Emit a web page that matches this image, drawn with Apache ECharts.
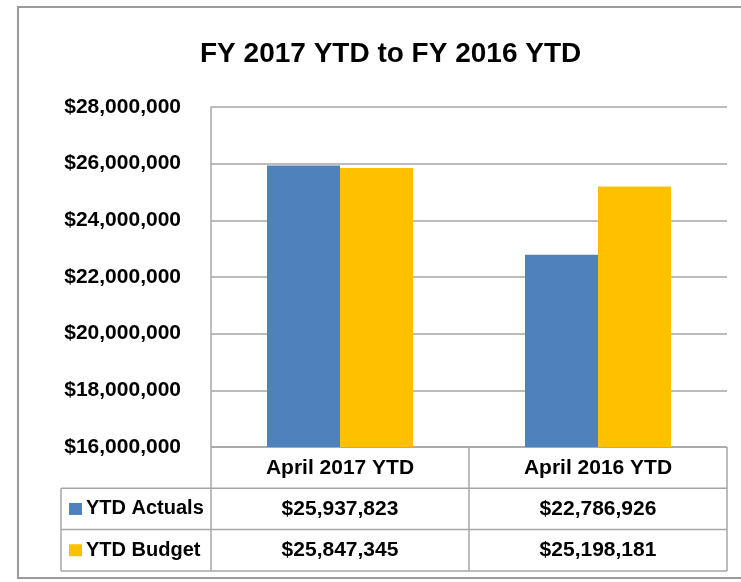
<!DOCTYPE html>
<html>
<head>
<meta charset="utf-8">
<script src="https://cdn.jsdelivr.net/npm/echarts@6/dist/echarts.min.js"></script>
<style>
  html, body { margin: 0; padding: 0; background: #fff; }
  #chart { width: 741px; height: 582px; }
</style>
</head>
<body>
<div id="chart"></div>
<script>
const categories = ['April 2017 YTD', 'April 2016 YTD']
const seriesNames = ['YTD Actuals', 'YTD Budget']
const actuals = [25937823, 22786926]
const budget = [25847345, 25198181]
const colors = ['#4f81bd', '#ffc000']

const font = '"Liberation Sans", Arial, sans-serif'
const lineColor = '#a6a6a6'

const fmt = v => '$' + v.toLocaleString('en-US')

const chart = echarts.init(document.getElementById('chart'))

// layout of plot + data table
const plotLeft = 211, plotRight = 727, plotTop = 107, plotBottom = 447
const rowH = 41.3
const legendLeft = 61

const option = {
  animation: false,
  title: {
    text: 'FY 2017 YTD to FY 2016 YTD',
    left: 195,
    top: 35,
    textStyle: { fontFamily: font, fontSize: 28, fontWeight: 'bold', color: '#000' }
  },
  grid: {
    left: plotLeft,
    right: 741 - plotRight,
    top: plotTop,
    bottom: 582 - plotBottom
  },
  xAxis: {
    type: 'category',
    data: categories,
    axisLine: { show: false },
    axisTick: { show: false },
    axisLabel: { show: false }
  },
  yAxis: {
    type: 'value',
    min: 16000000,
    max: 28000000,
    interval: 2000000,
    axisLine: { show: true, lineStyle: { color: lineColor, width: 1.5 } },
    axisTick: { show: false },
    splitLine: { lineStyle: { color: lineColor, width: 1.5 } },
    axisLabel: {
      formatter: fmt,
      fontFamily: font,
      fontSize: 21,
      fontWeight: 'bold',
      color: '#000',
      margin: 30,
      verticalAlign: 'middle'
    }
  },
  series: [
    {
      name: seriesNames[0],
      type: 'bar',
      data: actuals,
      itemStyle: { color: colors[0] },
      barGap: '0%',
      barCategoryGap: '43.4%'
    },
    {
      name: seriesNames[1],
      type: 'bar',
      data: budget,
      itemStyle: { color: colors[1] }
    }
  ]
}

chart.setOption(option)

// data table drawn under the plot
const colW = (plotRight - plotLeft) / categories.length
const tableBottom = plotBottom + rowH * 3
const g = []
const line = (x1, y1, x2, y2) => g.push({
  type: 'line', shape: { x1, y1, x2, y2 }, style: { stroke: lineColor, lineWidth: 1.5 }
})
const txt = (x, y, text, size, align) => g.push({
  type: 'text', x, y,
  style: {
    text, fontFamily: font, fontSize: size, fontWeight: 'bold', fill: '#000',
    align: align || 'center', verticalAlign: 'middle'
  }
})

// outer chart border
g.push({ type: 'rect', shape: { x: 18, y: 7, width: 740, height: 571 },
  style: { fill: null, stroke: '#9a9a9a', lineWidth: 2 } })

line(plotLeft, plotBottom, plotRight, plotBottom)
for (let r = 1; r <= 3; r++) {
  line(legendLeft, plotBottom + rowH * r, plotRight, plotBottom + rowH * r)
}
for (let c = 0; c <= categories.length; c++) {
  line(plotLeft + colW * c, plotBottom, plotLeft + colW * c, tableBottom)
}
line(legendLeft, plotBottom + rowH, legendLeft, tableBottom)

categories.forEach((cat, i) => {
  txt(plotLeft + colW * (i + 0.5), plotBottom + rowH * 0.5 + 1, cat, 21)
})
const rows = [actuals, budget]
rows.forEach((vals, r) => {
  const cy = plotBottom + rowH * (r + 1.5)
  g.push({ type: 'rect', shape: { x: legendLeft + 8, y: cy - 6, width: 13, height: 12 },
    style: { fill: colors[r] } })
  txt(legendLeft + 25, cy, seriesNames[r], 20, 'left')
  vals.forEach((v, i) => txt(plotLeft + colW * (i + 0.5), cy, fmt(v), 21))
})

chart.setOption({ graphic: { elements: g } })
</script>
</body>
</html>
